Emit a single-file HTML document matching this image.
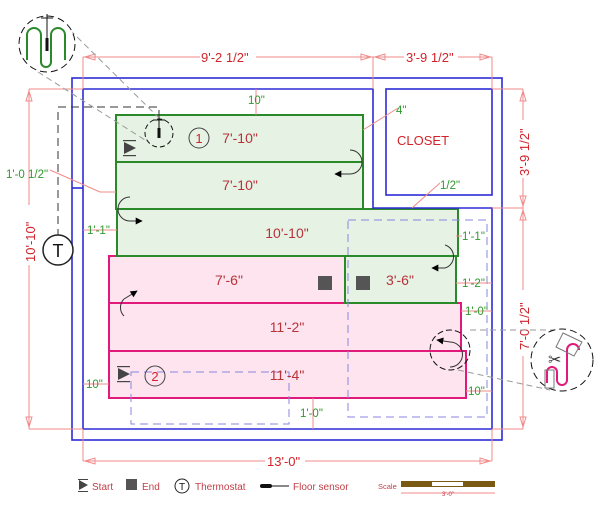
<!DOCTYPE html>
<html><head><meta charset="utf-8"><style>
html,body{margin:0;padding:0;background:#fff;width:600px;height:505px;overflow:hidden}
svg{display:block}
text{font-family:"Liberation Sans",sans-serif}
.r{fill:#d2232a;font-size:13px}
.g{fill:#2e9a2e;font-size:11.5px}
.dim{stroke:#f08a8a;stroke-width:1;fill:none}
.lbl{fill:#b8323a;font-size:14px;text-anchor:middle}
</style></head><body>
<svg width="600" height="505" viewBox="0 0 600 505">
<defs>
<marker id="ah" viewBox="0 0 10 10" refX="9" refY="5" markerWidth="9" markerHeight="7" orient="auto"><path d="M0,0 L10,5 L0,10 z" fill="#000"/></marker>
</defs>
<g fill="#fde4ee" stroke="#e0197a" stroke-width="2">
<rect x="109" y="256" width="236" height="47"/>
<rect x="109" y="303" width="352" height="48"/>
<rect x="109" y="351" width="357" height="47"/>
</g>
<g fill="#e6f2e4" stroke="#2a8a2a" stroke-width="2">
<rect x="116" y="115" width="247" height="47"/>
<rect x="116" y="162" width="247" height="47"/>
<rect x="117" y="209" width="341" height="47"/>
<rect x="345" y="256" width="111" height="47"/>
</g>
<g fill="none" stroke="#8c86e0" stroke-width="1" stroke-dasharray="8,5">
<rect x="348" y="220" width="139" height="197"/>
<rect x="131" y="372" width="158" height="52"/>
</g>
<g fill="none" stroke="#2b2bd6" stroke-width="1.6">
<rect x="72" y="78" width="430" height="362"/>
<path d="M83 429 V89 H373 V208 H492 V429 Z"/>
<rect x="386" y="89" width="106" height="106"/>
<line x1="72" y1="188" x2="83" y2="188"/>
</g>
<g class="dim">
<line x1="83" y1="57" x2="492" y2="57"/>
<line x1="83" y1="57" x2="83" y2="89"/>
<line x1="373" y1="57" x2="373" y2="89"/>
<line x1="492" y1="57" x2="492" y2="89"/>
<line x1="29" y1="89" x2="83" y2="89"/>
<line x1="29" y1="89" x2="29" y2="429"/>
<line x1="29" y1="429" x2="83" y2="429"/>
<line x1="83" y1="429" x2="83" y2="461"/>
<line x1="83" y1="461" x2="492" y2="461"/>
<line x1="492" y1="429" x2="492" y2="461"/>
<line x1="492" y1="89" x2="523" y2="89"/>
<line x1="492" y1="208" x2="523" y2="208"/>
<line x1="492" y1="429" x2="523" y2="429"/>
<line x1="523" y1="89" x2="523" y2="429"/>
<line x1="256" y1="89" x2="256" y2="115"/>
<line x1="363" y1="130" x2="398" y2="108"/>
<line x1="412" y1="208" x2="440" y2="183"/>
<path d="M50 170 L100 192 H116"/>
<line x1="83" y1="230" x2="117" y2="230"/>
<line x1="456" y1="236" x2="462" y2="236"/>
<line x1="456" y1="283" x2="492" y2="283"/>
<line x1="461" y1="311" x2="492" y2="311"/>
<line x1="466" y1="391" x2="492" y2="391"/>
<line x1="83" y1="384" x2="109" y2="384"/>
<line x1="313" y1="398" x2="313" y2="429"/>
</g>
<g fill="none" stroke="#f08a8a">
<path d="M85 57 l10 -3 v6 z"/><path d="M371 57 l-10 -3 v6 z"/><path d="M375 57 l10 -3 v6 z"/><path d="M490 57 l-10 -3 v6 z"/>
<path d="M29 91 l-3 10 h6 z"/><path d="M29 427 l-3 -10 h6 z"/>
<path d="M85 461 l10 -3 v6 z"/><path d="M490 461 l-10 -3 v6 z"/>
<path d="M523 91 l-3 10 h6 z"/><path d="M523 206 l-3 -10 h6 z"/><path d="M523 210 l-3 10 h6 z"/><path d="M523 427 l-3 -10 h6 z"/>
</g>
<rect x="200" y="51" width="56" height="13" fill="#fff"/>
<text x="201" y="62" class="r" font-size="14">9'-2 1/2"</text>
<rect x="404" y="51" width="54" height="13" fill="#fff"/>
<text x="406" y="62" class="r" font-size="14">3'-9 1/2"</text>
<rect x="22" y="205" width="14" height="60" fill="#fff"/>
<text transform="translate(35,262) rotate(-90)" class="r" font-size="14">10'-10"</text>
<rect x="516" y="120" width="14" height="58" fill="#fff"/>
<text transform="translate(529,176) rotate(-90)" class="r" font-size="14">3'-9 1/2"</text>
<rect x="516" y="290" width="14" height="66" fill="#fff"/>
<text transform="translate(529,350) rotate(-90)" class="r" font-size="14">7'-0 1/2"</text>
<rect x="265" y="455" width="40" height="13" fill="#fff"/>
<text x="267" y="466" class="r" font-size="14">13'-0"</text>
<text x="397" y="145" class="r" font-size="17">CLOSET</text>
<text x="248" y="104" class="g">10"</text>
<text x="396" y="114" class="g">4"</text>
<text x="440" y="189" class="g">1/2"</text>
<text x="6" y="178" class="g">1'-0 1/2"</text>
<text x="87" y="234" class="g">1'-1"</text>
<text x="462" y="240" class="g">1'-1"</text>
<text x="462" y="287" class="g">1'-2"</text>
<text x="465" y="315" class="g">1'-0"</text>
<text x="468" y="395" class="g">10"</text>
<text x="86" y="388" class="g">10"</text>
<text x="300" y="417" class="g">1'-0"</text>
<text x="240" y="143" class="lbl">7'-10"</text>
<text x="240" y="190" class="lbl">7'-10"</text>
<text x="287" y="238" class="lbl">10'-10"</text>
<text x="229" y="285" class="lbl">7'-6"</text>
<text x="400" y="285" class="lbl">3'-6"</text>
<text x="287" y="332" class="lbl">11'-2"</text>
<text x="287" y="380" class="lbl">11'-4"</text>
<circle cx="199" cy="138" r="10" fill="none" stroke="#444"/>
<text x="199" y="143" class="r" text-anchor="middle" font-size="14">1</text>
<circle cx="155" cy="376" r="10" fill="none" stroke="#444"/>
<text x="155" y="381" class="r" text-anchor="middle" font-size="14">2</text>
<g fill="#444"><path d="M124 142 l12 6 l-12 6 z"/><rect x="123" y="140" width="13" height="1.2"/><rect x="123" y="155" width="13" height="1.2"/>
<path d="M118 368 l12 6 l-12 6 z"/><rect x="117" y="366" width="13" height="1.2"/><rect x="117" y="381" width="13" height="1.2"/></g>
<rect x="318" y="276" width="14" height="14" fill="#555"/>
<rect x="356" y="276" width="14" height="14" fill="#555"/>
<g fill="none" stroke="#333" stroke-width="1">
<path d="M350 150 A12 12 0 0 1 350 174 L335 174" marker-end="url(#ah)"/>
<path d="M130 197 A12 12 0 0 0 130 221 L142 221" marker-end="url(#ah)"/>
<path d="M445 245 A12 12 0 0 1 445 268 L432 268" marker-end="url(#ah)"/>
<path d="M124 299 A12 12 0 0 0 124 316" /><path d="M124 299 L137 291" marker-end="url(#ah)"/>
<path d="M450 342 A12 12 0 0 1 450 367"/><path d="M450 342 L437 340" marker-end="url(#ah)"/>
</g>
<path d="M58 250 V107 H159 V120" fill="none" stroke="#333" stroke-dasharray="8,5"/>
<circle cx="58" cy="250" r="15" fill="#fff" stroke="#222" stroke-width="1.5"/>
<text x="58" y="257" text-anchor="middle" font-size="18" fill="#111">T</text>
<circle cx="159" cy="133" r="14" fill="none" stroke="#111" stroke-dasharray="5,3"/>
<line x1="159" y1="117" x2="159" y2="138" stroke="#111"/><rect x="157.5" y="128" width="3" height="10" fill="#111"/><line x1="153" y1="120" x2="165" y2="120" stroke="#111"/>
<g stroke="#999" stroke-dasharray="6,4" fill="none"><line x1="70" y1="30" x2="158" y2="117"/><line x1="38" y1="72" x2="145" y2="140"/>
<line x1="470" y1="330" x2="560" y2="330"/><line x1="458" y1="370" x2="550" y2="390"/></g>
<circle cx="47" cy="44" r="28" fill="#fff" stroke="#111" stroke-dasharray="7,4"/>
<path d="M30 60 V35 a7 7 0 0 1 14 0 V62 a5 5 0 0 0 10 0 V35 a7 7 0 0 1 14 0 V60" fill="none" stroke="#2a8a2a" stroke-width="2" transform="translate(-3,0)"/>
<line x1="47" y1="14" x2="47" y2="50" stroke="#111"/><rect x="45.5" y="38" width="3" height="13" fill="#111"/><line x1="41" y1="18" x2="53" y2="18" stroke="#111"/>
<circle cx="450" cy="350" r="20" fill="none" stroke="#111" stroke-dasharray="6,3"/>
<circle cx="562" cy="360" r="31" fill="#fff" stroke="#111" stroke-dasharray="7,4"/>
<path d="M547 383 V372 a5 5 0 0 1 10 0 V380 a5 5 0 0 0 10 0 V350 a6 6 0 0 1 12 0" fill="none" stroke="#e0197a" stroke-width="2"/>
<path d="M545 370 H554 V388 H545 Z M563 333 l19 9 l-8 14 l-18 -9 z" fill="none" stroke="#777"/>
<text x="548" y="365" font-size="16" fill="#333">✂</text>
<g fill="#444"><path d="M79 480 l9 5 l-9 5 z"/><rect x="78" y="479" width="10" height="1"/><rect x="78" y="491" width="10" height="1"/></g>
<text x="92" y="490" font-size="10" fill="#c0404a">Start</text>
<rect x="126" y="479" width="11" height="11" fill="#555"/>
<text x="142" y="490" font-size="10" fill="#c0404a">End</text>
<circle cx="182" cy="486" r="7" fill="none" stroke="#222"/><text x="182" y="490" text-anchor="middle" font-size="10" fill="#111">T</text>
<text x="195" y="490" font-size="10" fill="#c0404a">Thermostat</text>
<rect x="260" y="484" width="12" height="4" rx="2" fill="#111"/><line x1="270" y1="486" x2="289" y2="486" stroke="#111"/>
<text x="293" y="490" font-size="10" fill="#c0404a">Floor sensor</text>
<text x="378" y="489" font-size="7.5" fill="#c0404a">Scale</text>
<rect x="401" y="481" width="94" height="6" fill="#7a5a12"/><rect x="432" y="482" width="31" height="4" fill="#fff"/>
<line x1="401" y1="493" x2="495" y2="493" stroke="#f08a8a"/>
<text x="448" y="496" font-size="6" fill="#c0404a" text-anchor="middle">3'-0"</text>
</svg>
</body></html>
